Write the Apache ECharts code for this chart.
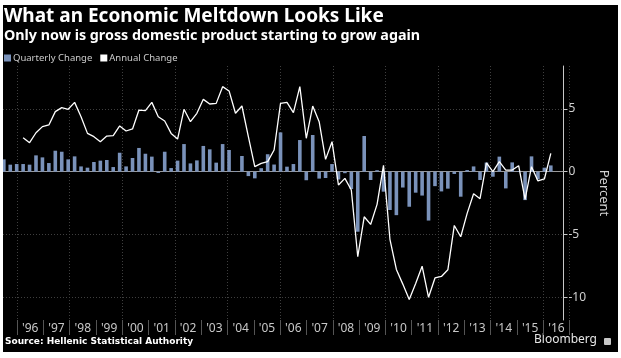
<!DOCTYPE html>
<html>
<head>
<meta charset="utf-8">
<script src="https://cdn.jsdelivr.net/npm/echarts@6/dist/echarts.min.js"></script>
<style>
  html, body { margin: 0; padding: 0; background: #fff; }
  #chart { position: absolute; left: 3px; top: 5px; width: 615px; height: 347px; background: #000; }
</style>
</head>
<body>
<div id="chart"></div>
<script>
// ---- Data ----
const firstYear = 1995;      // first quarterly observation: 1995 Q2
const firstQuarter = 2;
const yearLabels = ["'96","'97","'98","'99","'00","'01","'02","'03","'04","'05","'06","'07","'08","'09","'10","'11","'12","'13","'14","'15","'16"];
const yTicks = [-10, -5, 0, 5];
const quarterlyChange = [
  0.98, 0.56, 0.61, 0.61, 0.56, 1.30, 1.14, 0.69, 1.67, 1.59,
  0.98, 1.22, 0.42, 0.32, 0.77, 0.88, 0.93, 0.37, 1.51, 0.42,
  1.09, 1.89, 1.43, 1.20, -0.10, 1.59, 0.29, 0.88, 2.20, 0.66,
  0.90, 2.05, 1.78, 0.72, 2.20, 1.73, 0.05, 1.25, -0.35, -0.53,
  0.28, 1.39, 0.57, 3.13, 0.40, 0.61, 2.52, -0.68, 2.92, -0.55,
  -0.50, 0.61, -0.62, -0.12, -1.38, -4.78, 2.84, -0.66, 0.12, -1.59,
  -3.05, -3.46, -1.26, -2.79, -1.67, -1.90, -3.89, -1.15, -1.57, -1.35,
  -0.18, -1.99, 0.13, 0.42, -0.66, 0.73, -0.40, 1.20, -1.33, 0.74,
  0.05, -2.26, 1.22, -0.61, 0.32, 0.50
];
const annualChange = [
  null, null, null, 2.71, 2.31, 3.10, 3.59, 3.72, 4.78, 5.10,
  4.97, 5.52, 4.38, 3.05, 2.79, 2.39, 2.84, 2.87, 3.64, 3.24,
  3.40, 4.91, 4.86, 5.52, 4.38, 4.04, 3.05, 2.60, 4.97, 3.98,
  4.65, 5.76, 5.39, 5.44, 6.77, 6.43, 4.65, 5.23, 2.79, 0.40,
  0.66, 0.80, 1.73, 5.44, 5.52, 4.70, 6.77, 2.66, 5.23, 3.98,
  0.98, 2.39, -1.06, -0.53, -1.46, -6.77, -3.59, -4.20, -2.60, 0.50,
  -5.38, -7.78, -8.95, -10.17, -8.90, -7.52, -10.00, -8.46, -8.34, -7.81,
  -4.28, -5.18, -3.32, -1.75, -2.15, 0.70, 0.00, 0.80, 0.13, 0.13,
  0.48, -2.20, 0.40, -0.74, -0.58, 1.46
];

// quarter-end position (in years) of each observation
function quarterEnd(i) {
  const q = firstQuarter + i;
  return firstYear + q / 4;
}
const barData = quarterlyChange.map((v, i) => [quarterEnd(i), v]);
const lineData = annualChange.map((v, i) => v === null ? null : [quarterEnd(i), v]).filter(d => d !== null);

const chart = echarts.init(document.getElementById('chart'), null, { renderer: 'canvas' });
const gridTop = 61, gridBottom = 32;
const grid = '#3f3f3f';

chart.setOption({
  backgroundColor: '#000',
  animation: false,
  title: [
    { text: 'What an Economic Meltdown Looks Like', left: 1, top: 2, padding: 0,
      textStyle: { color: '#fff', fontSize: 19, fontWeight: 'bold', fontFamily: 'Noto Sans' } },
    { text: 'Only now is gross domestic product starting to grow again', left: 1, top: 23.5, padding: 0,
      textStyle: { color: '#fff', fontSize: 14.3, fontWeight: 'bold', fontFamily: 'Noto Sans' } }
  ],
  legend: {
    left: 1, top: 48, padding: 0, icon: 'rect', itemWidth: 7, itemHeight: 7, itemGap: 8,
    textStyle: { color: '#ccc', fontSize: 9.5, fontFamily: 'Noto Sans', padding: [0, 0, 0, -3] },
    data: ['Quarterly Change', 'Annual Change']
  },
  grid: [
    { left: 0, right: 42, top: gridTop, bottom: gridBottom },
    { left: 14, right: 48.4, top: gridTop, bottom: gridBottom }
  ],
  xAxis: [
    { type: 'value', gridIndex: 0, min: 1995.468, max: 2017.243,
      axisLine: { show: true, onZero: true, lineStyle: { color: '#9a9a9a', width: 1 } },
      axisTick: { show: false }, axisLabel: { show: false }, splitLine: { show: false } },
    { type: 'category', gridIndex: 1, data: yearLabels, boundaryGap: true,
      axisLine: { show: false },
      axisTick: { show: true, interval: 0, length: 15, lineStyle: { color: '#555' } },
      axisLabel: { interval: 0, color: '#c8c8c8', fontSize: 12, margin: 3, fontFamily: 'Noto Sans' },
      splitLine: { show: true, interval: 1, lineStyle: { color: grid, type: [1, 2] } } }
  ],
  yAxis: [
    { type: 'value', gridIndex: 0, position: 'right', min: -11.807, max: 8.415,
      axisLine: { show: true, lineStyle: { color: '#c8c8c8' } },
      axisTick: { show: true, customValues: yTicks, length: 4, lineStyle: { color: '#c8c8c8' } },
      axisLabel: { customValues: yTicks, color: '#d0d0d0', fontSize: 12, margin: 5, fontFamily: 'Noto Sans' },
      splitLine: { show: true, lineStyle: { color: grid, type: [1, 2] } },
      name: 'Percent', nameLocation: 'middle', nameRotate: -90, nameGap: 31,
      nameTextStyle: { color: '#d0d0d0', fontSize: 13, fontFamily: 'Noto Sans' } },
    { type: 'value', gridIndex: 1, show: false }
  ],
  series: [
    { name: 'Quarterly Change', type: 'bar', xAxisIndex: 0, yAxisIndex: 0,
      data: barData, barWidth: 3.6, itemStyle: { color: '#7a92ba' }, z: 2 },
    { name: 'Annual Change', type: 'line', xAxisIndex: 0, yAxisIndex: 0,
      data: lineData, symbol: 'none', lineStyle: { color: '#fff', width: 1.3 },
      itemStyle: { color: '#fff' }, z: 3 }
  ],
  graphic: [
    { type: 'text', left: 2, top: 332, style: { text: 'Source: Hellenic Statistical Authority',
      fill: '#fff', font: 'bold 9px "DejaVu Sans"' } },
    { type: 'text', right: 21, top: 329, style: { text: 'Bloomberg', fill: '#e6e6e6',
      font: '12px "Noto Sans"' } },
    { type: 'rect', right: 7, top: 333, shape: { width: 7, height: 7, r: 1 }, style: { fill: '#c8c8c8' } }
  ]
});
</script>
</body>
</html>
